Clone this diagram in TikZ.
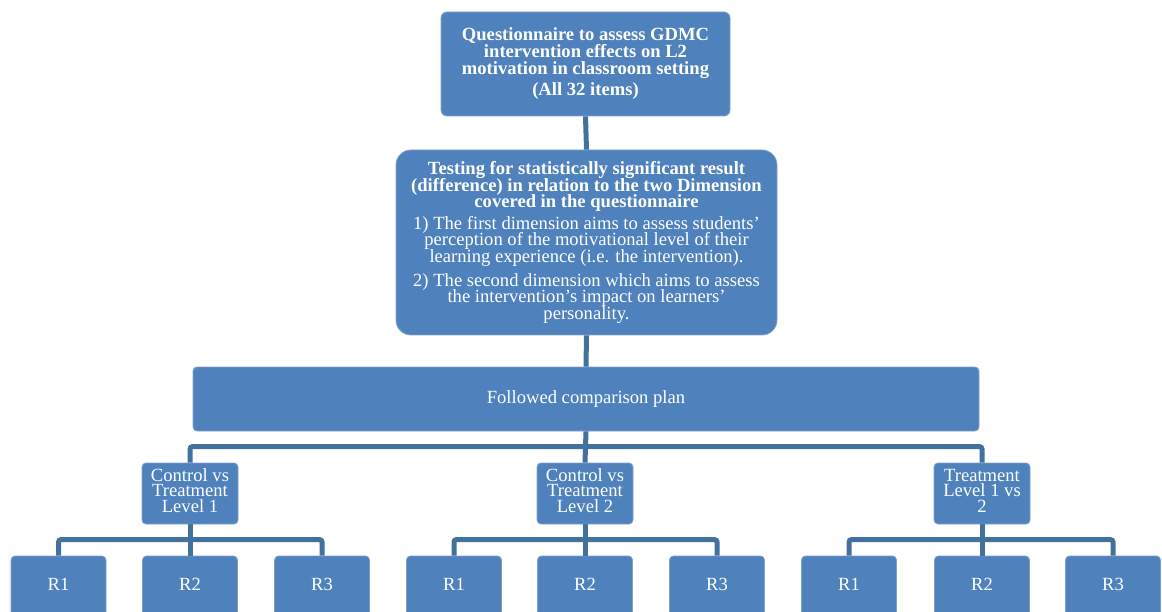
\documentclass[tikz,border=0pt]{standalone}
\usepackage{fontspec}
\setmainfont{Liberation Serif}
\newcommand\stackthree[3]{\raisebox{3pt}[\height][\depth]{\parbox{94pt}{\centering #1\\#2\\#3}}}
\begin{document}
\lineskiplimit=-20pt
\definecolor{boxblue}{HTML}{4F81BD}
\definecolor{boxedge}{HTML}{7EA1CE}
\definecolor{linkblue}{HTML}{41719C}
\begin{tikzpicture}[x=1pt,y=-1pt,
  plainbox/.style={fill=boxblue,draw=boxedge,line width=0.8pt,text=white,
    inner sep=0pt,anchor=center,font=\fontsize{18.6}{15.5}\selectfont},
  box/.style={plainbox,align=center},
  cbox/.style={plainbox,minimum width=96pt,minimum height=61pt,rounded corners=4pt},
  conn/.style={draw=linkblue,line width=5pt},
  drop/.style={draw=linkblue,line width=5pt,rounded corners=2.5pt},
  rbox/.style={plainbox,minimum width=95pt,minimum height=84pt,rounded corners=4pt}]
\useasboundingbox (0,0) rectangle (1162,612);

% top-level boxes
\node[box,minimum width=289pt,minimum height=104pt,rounded corners=6pt,
  font=\bfseries\fontsize{18.6}{17}\selectfont] (q) at (585.5,64)
  {Questionnaire to assess GDMC\\intervention effects on L2\\motivation in classroom setting\\[4pt](All 32 items)};
\node[box,minimum width=381pt,minimum height=185pt,rounded corners=15pt,
  font=\fontsize{18.6}{16.4}\selectfont] (t) at (586.5,242.5)
  {\textbf{Testing for statistically significant result}\\
   \textbf{(difference) in relation to the two Dimension}\\
   \textbf{covered in the questionnaire}\\[5.5pt]
   1) The first dimension aims to assess students'\\
   perception of the motivational level of their\\
   learning experience (i.e. the intervention).\\[8pt]
   2) The second dimension which aims to assess\\
   the intervention's impact on learners'\\
   personality.};
\node[box,minimum width=786pt,minimum height=64pt,rounded corners=4pt] (f) at (586,399)
  {Followed comparison plan};

% comparison nodes
\node[cbox] (c1) at (190,493.5) {\stackthree{Control vs}{Treatment}{Level 1}};
\node[cbox] (c2) at (585,493.5) {\stackthree{Control vs}{Treatment}{Level 2}};
\node[cbox] (c3) at (982,493.5) {\stackthree{Treatment}{Level 1 vs}{2}};

% result nodes
\begin{scope}[every node/.style={rbox}]
\node (a1) at (58.5,598) {}; \node (a2) at (190,598) {}; \node (a3) at (322,598) {};
\node (b1) at (454,598) {};  \node (b2) at (585,598) {}; \node (b3) at (717,598) {};
\node (d1) at (849,598) {};  \node (d2) at (982,598) {}; \node (d3) at (1113,598) {};
\end{scope}
\begin{scope}[every node/.style={text=white,font=\fontsize{18.6}{18}\selectfont,anchor=center}]
\node (la1) at (a1.center |- 0,584) {R1}; \node (la2) at (a2.center |- 0,584) {R2}; \node (la3) at (a3.center |- 0,584) {R3};
\node (lb1) at (b1.center |- 0,584) {R1}; \node (lb2) at (b2.center |- 0,584) {R2}; \node (lb3) at (b3.center |- 0,584) {R3};
\node (ld1) at (d1.center |- 0,584) {R1}; \node (ld2) at (d2.center |- 0,584) {R2}; \node (ld3) at (d3.center |- 0,584) {R3};
\end{scope}

% connectors
\draw[conn] (q.south) -- (t.north);
\draw[conn] (t.south) -- (f.north);
\draw[conn] (f.south) -- (c2.north);
\draw[drop] (c1.north) -- ++(0,-16) -| (c3.north);

\draw[conn] (c1.south) -- (a2.north);
\draw[drop] (a1.north) -- ++(0,-16) -| (a3.north);
\draw[conn] (c2.south) -- (b2.north);
\draw[drop] (b1.north) -- ++(0,-16) -| (b3.north);
\draw[conn] (c3.south) -- (d2.north);
\draw[drop] (d1.north) -- ++(0,-16) -| (d3.north);
\end{tikzpicture}
\end{document}
